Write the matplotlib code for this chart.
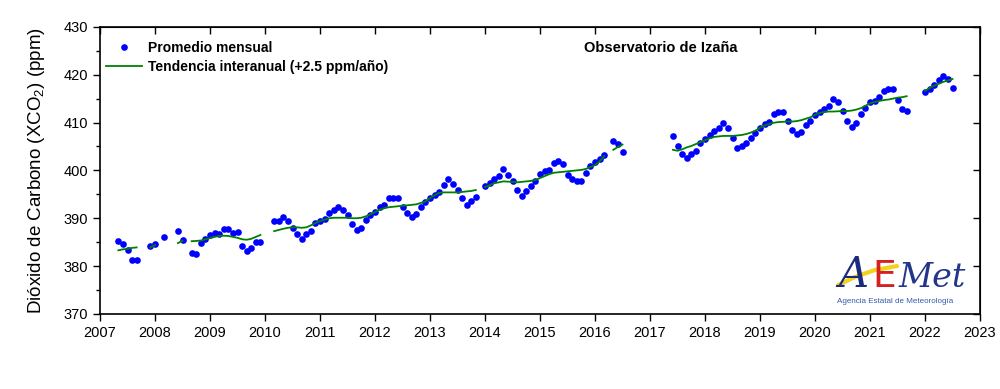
import numpy as np
import matplotlib.pyplot as plt
from matplotlib.lines import Line2D
from matplotlib.ticker import MultipleLocator

plt.rcParams['font.family'] = ['Liberation Sans', 'DejaVu Sans']
plt.rcParams['mathtext.default'] = 'regular'

first_year = 2007
# XCO2 medio mensual (ppm), ene..dic, una fila por año; None = sin dato
co2 = [
    None, None, None, None, 385.3, 384.6, 383.4, 381.35, 381.35, None, None, 384.1,      # 2007
    384.7, None, 386.0, None, None, 387.35, 385.5, None, 382.7, 382.6, 384.9, 385.6,     # 2008
    386.4, 386.9, 386.7, 387.7, 387.7, 387.0, 387.1, 384.1, 383.2, 383.7, 385.1, 385.1,  # 2009
    None, None, 389.4, 389.4, 390.3, 389.4, 388.0, 386.7, 385.7, 386.6, 387.3, 389.0,    # 2010
    389.4, 389.9, 391.0, 391.7, 392.4, 391.8, 390.7, 388.7, 387.6, 387.9, 389.6, 390.7,  # 2011
    391.3, 392.4, 392.85, 394.2, 394.2, 394.2, 392.4, 391.0, 390.3, 390.9, 392.4, 393.3, # 2012
    394.2, 394.8, 395.4, 397.0, 398.2, 397.2, 395.8, 394.2, 392.85, 393.5, 394.4, None,  # 2013
    396.7, 397.4, 398.2, 398.9, 400.25, 399.1, 397.7, 395.9, 394.7, 395.6, 396.7, 397.8, # 2014
    399.2, 399.8, 400.0, 401.5, 402.0, 401.4, 399.0, 398.3, 397.8, 397.8, 399.5, 401.0,  # 2015
    401.8, 402.3, 403.3, None, 406.1, 405.5, 403.9, None, None, None, None, None,        # 2016
    None, None, None, None, None, 407.15, 405.2, 403.4, 402.55, 403.4, 404.1, 405.7,     # 2017
    406.65, 407.3, 408.2, 408.95, 409.8, 408.9, 406.7, 404.7, 405.0, 405.75, 406.7, 407.8,   # 2018
    408.95, 409.65, 410.1, 411.75, 412.2, 412.1, 410.35, 408.5, 407.5, 408.0, 409.4, 410.4,  # 2019
    411.5, 412.2, 412.85, 413.5, 414.95, 414.2, 412.5, 410.3, 409.0, 409.9, 411.8, 413.1,    # 2020
    414.2, 414.5, 415.3, 416.6, 417.0, 417.0, 414.8, 412.9, 412.4, None, None, None,         # 2021
    416.3, 417.1, 417.9, 418.8, 419.8, 419.1, 417.3, None, None, None, None, None,           # 2022
]
# tendencia interanual (ppm)
trend = [
    None, None, None, None, 383.3, 383.5, 383.6, 383.8, 383.9, None, None, 383.9,        # 2007
    384.4, None, None, None, None, 384.8, 385.3, None, 385.2, 385.25, 385.35, 385.6,     # 2008
    385.85, 386.1, 386.3, 386.35, 386.3, 386.1, 385.9, 385.6, 385.5, 385.7, 386.1, 386.5,  # 2009
    None, None, 387.3, 387.55, 387.8, 388.0, 388.1, 388.1, 388.0, 388.1, 388.5, 389.0,   # 2010
    389.4, 389.7, 390.0, 390.1, 390.1, 390.1, 390.1, 390.0, 390.0, 390.1, 390.4, 390.8,  # 2011
    391.3, 391.8, 392.1, 392.3, 392.4, 392.5, 392.6, 392.7, 392.8, 392.9, 393.2, 393.5,  # 2012
    394.2, 394.8, 395.3, 395.4, 395.4, 395.4, 395.4, 395.5, 395.6, 395.7, 395.9, None,   # 2013
    396.5, 396.9, 397.3, 397.5, 397.7, 397.65, 397.6, 397.5, 397.6, 397.7, 397.8, 398.0, # 2014
    398.4, 398.8, 399.2, 399.5, 399.6, 399.7, 399.8, 399.9, 400.0, 400.1, 400.3, 400.7,  # 2015
    401.1, 401.9, 403.0, None, 404.3, 404.9, 405.4, None, None, None, None, None,        # 2016
    None, None, None, None, None, 404.3, 404.1, 404.4, 404.8, 405.1, 405.5, 405.9,       # 2017
    406.3, 406.7, 407.0, 407.1, 407.2, 407.2, 407.2, 407.3, 407.4, 407.6, 407.9, 408.3,  # 2018
    408.9, 409.4, 409.7, 409.95, 410.1, 410.15, 410.2, 410.2, 410.3, 410.5, 410.8, 411.1,  # 2019
    411.6, 412.0, 412.2, 412.3, 412.3, 412.35, 412.4, 412.4, 412.5, 412.7, 413.0, 413.5, # 2020
    414.0, 414.3, 414.5, 414.7, 414.8, 415.0, 415.2, 415.3, 415.5, None, None, None,     # 2021
    416.6, 417.2, 417.7, 418.1, 418.5, 418.8, 419.1, None, None, None, None, None,       # 2022
]
year_ticks = list(range(2007, 2024))

co2 = np.array(co2, dtype=float)
trend = np.array(trend, dtype=float)
t = first_year + np.arange(len(co2)) / 12.0

fig = plt.figure(figsize=(10, 3.89), dpi=100)
ax = fig.add_axes([0.100, 0.193, 0.880, 0.738])

ax.plot(t, co2, 'o', color='#0000ff', ms=4.8, mec='none', label='Promedio mensual')
ax.plot(t, trend, '-', color='#008000', lw=1.3, label='Tendencia interanual (+2.5 ppm/año)')

ax.set_xlim(2007, 2023)
ax.set_ylim(370, 430)
ax.set_xticks(year_ticks)
ax.yaxis.set_major_locator(MultipleLocator(10))
ax.yaxis.set_minor_locator(MultipleLocator(5))
ax.tick_params(axis='both', which='major', direction='out', length=5, width=1, labelsize=10.5)
ax.tick_params(axis='y', which='minor', direction='out', length=3, width=1)
for s in ax.spines.values():
    s.set_linewidth(1.2)

# ejes espejo con marcas hacia dentro
top = ax.secondary_xaxis('top')
top.set_xticks(year_ticks)
top.tick_params(direction='in', length=5, width=1, labeltop=False)
right = ax.secondary_yaxis('right')
right.yaxis.set_major_locator(MultipleLocator(10))
right.tick_params(direction='in', length=5, width=1, labelright=False)

ax.set_ylabel('Dióxido de Carbono (XCO$_2$) (ppm)', fontsize=13.5, labelpad=12)

leg = ax.legend(loc='upper left', bbox_to_anchor=(-0.004, 0.985), frameon=False,
                prop={'weight': 'bold', 'size': 10}, numpoints=1,
                handlelength=2.6, handletextpad=0.4, labelspacing=0.35, borderaxespad=0.3)

ax.text(0.637, 0.925, 'Observatorio de Izaña', transform=ax.transAxes,
        ha='center', va='center', fontsize=10.5, fontweight='bold')

# logo AEMet (aproximado)
fig.add_artist(Line2D([0.838, 0.855, 0.875, 0.897], [0.267, 0.288, 0.306, 0.316],
                      color='#f2d21a', lw=3, solid_capstyle='round',
                      transform=fig.transFigure, zorder=1))
fig.text(0.838, 0.262, 'A', color='#1c2a7c', fontsize=30, fontstyle='italic',
         family='DejaVu Serif', zorder=2)
fig.text(0.872, 0.262, 'E', color='#d42020', fontsize=27, family='DejaVu Sans', zorder=2)
fig.text(0.899, 0.262, 'Met', color='#24368a', fontsize=24, fontstyle='italic',
         family='DejaVu Serif', zorder=2)
fig.text(0.837, 0.222, 'Agencia Estatal de Meteorología', color='#3558b0', fontsize=5.8)

fig.savefig('out.png', dpi=100)
